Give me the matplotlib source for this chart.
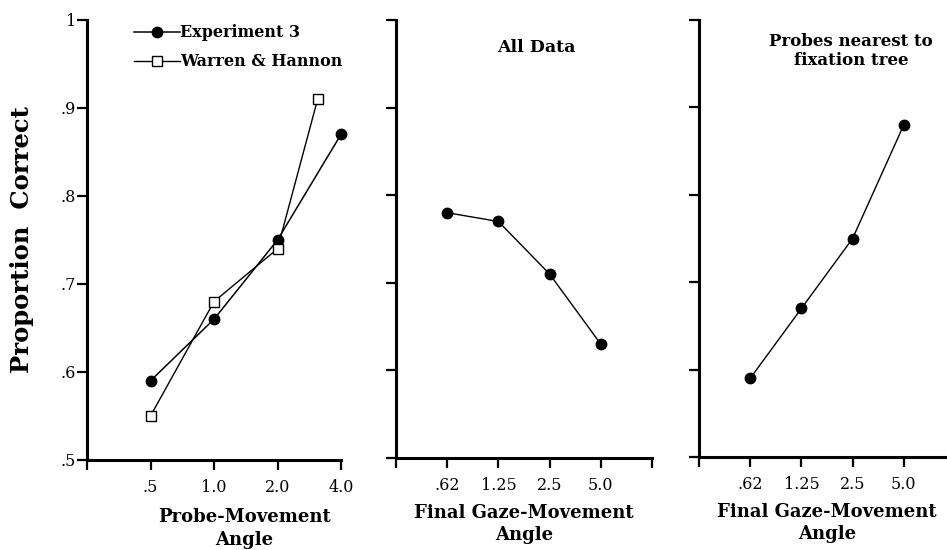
import matplotlib
matplotlib.use('Agg')
import matplotlib.pyplot as plt
from matplotlib.ticker import FixedLocator, NullLocator

# proportion correct by angle (deg)
probe_angle = [0.5, 1.0, 2.0, 4.0]
exp3 = [0.59, 0.66, 0.75, 0.87]
wh_angle = [0.5, 1.0, 2.0, 3.1]
warren_hannon = [0.55, 0.68, 0.74, 0.91]

gaze_angle = [0.625, 1.25, 2.5, 5.0]
gaze_labels = ['.62', '1.25', '2.5', '5.0']
all_data = [0.78, 0.77, 0.71, 0.63]
nearest_tree = [0.59, 0.67, 0.75, 0.88]

y_ticks = [0.5, 0.6, 0.7, 0.8, 0.9, 1.0]
y_labels = ['.5', '.6', '.7', '.8', '.9', '1']

plt.rcParams['font.family'] = ['DejaVu Serif']

W, H = 947, 550
fig = plt.figure(figsize=(W / 100, H / 100), dpi=100)

def px_axes(left, right, top, bottom):
    return fig.add_axes([left / W, 1 - bottom / H, (right - left) / W, (bottom - top) / H])

def style(ax, xlim, xticks, xlabels):
    ax.set_xscale('log', base=2)
    ax.set_xlim(*xlim)
    ax.set_ylim(0.5, 1.0)
    for s in ['top', 'right']:
        ax.spines[s].set_visible(False)
    for s in ['left', 'bottom']:
        ax.spines[s].set_linewidth(2.2)
    ax.xaxis.set_major_locator(FixedLocator(xticks))
    ax.xaxis.set_minor_locator(NullLocator())
    ax.set_xticklabels(xlabels)
    ax.set_yticks(y_ticks)
    ax.tick_params(axis='both', direction='out', length=7, width=1.6, labelsize=11.5)
    ax.tick_params(axis='x', pad=7)
    ax.tick_params(axis='y', pad=1)

ax1 = px_axes(87, 341, 20, 460)
ax2 = px_axes(396, 652, 20, 458)
ax3 = px_axes(699, 955, 20, 457)

# probe-movement panel
ax1.plot(probe_angle, exp3, color='black', lw=1.1, marker='o', ms=7.5,
         mfc='black', mec='black', label='Experiment 3', clip_on=False)
ax1.plot(wh_angle, warren_hannon, color='black', lw=1.0, marker='s', ms=7,
         mfc='white', mec='black', mew=1.0, label='Warren & Hannon', clip_on=False)
style(ax1, (0.25, 4.0), [0.25, 0.5, 1.0, 2.0, 4.0], ['', '.5', '1.0', '2.0', '4.0'])
ax1.set_yticklabels(y_labels)
ax1.set_xlabel('Probe-Movement\nAngle', fontsize=13, fontweight='bold', linespacing=1.3)
ax1.xaxis.set_label_coords(0.62, -0.11, transform=ax1.transAxes)
ax1.xaxis.label.set_va('top')
leg = ax1.legend(loc='upper left', bbox_to_anchor=(0.16, 1.005), frameon=False,
                 handlelength=2.9, handletextpad=0.0, labelspacing=0.75,
                 borderaxespad=0.0, prop={'weight': 'bold', 'size': 11.5})

fig.text(22 / W, 1 - 240 / H, 'Proportion  Correct', rotation=90, ha='center', va='center',
         fontsize=17.5, fontweight='bold')

# gaze-movement panels
ax2.plot(gaze_angle, all_data, color='black', lw=1.0, marker='o', ms=7.5, clip_on=False)
style(ax2, (0.3125, 10.0), [0.3125, 0.625, 1.25, 2.5, 5.0, 10.0], [''] + gaze_labels + [''])
ax2.set_yticklabels([])
ax2.set_xlabel('Final Gaze-Movement\nAngle', fontsize=13, fontweight='bold', linespacing=1.3)
ax2.text(0.55, 0.938, 'All Data', transform=ax2.transAxes, ha='center', va='center',
         fontsize=12.5, fontweight='bold')

ax3.plot(gaze_angle, nearest_tree, color='black', lw=1.0, marker='o', ms=7.5, clip_on=False)
style(ax3, (0.3125, 10.0), [0.3125, 0.625, 1.25, 2.5, 5.0, 10.0], [''] + gaze_labels + [''])
ax3.set_yticklabels([])
ax3.set_xlabel('Final Gaze-Movement\nAngle', fontsize=13, fontweight='bold', linespacing=1.3)
ax3.text(0.594, 0.929, 'Probes nearest to\nfixation tree', transform=ax3.transAxes,
         ha='center', va='center', fontsize=12, fontweight='bold', linespacing=1.15)

for ax in (ax2, ax3):
    ax.xaxis.set_label_coords(0.5, -0.105, transform=ax.transAxes)
    ax.xaxis.label.set_va('top')

fig.savefig('out.png', dpi=100)
